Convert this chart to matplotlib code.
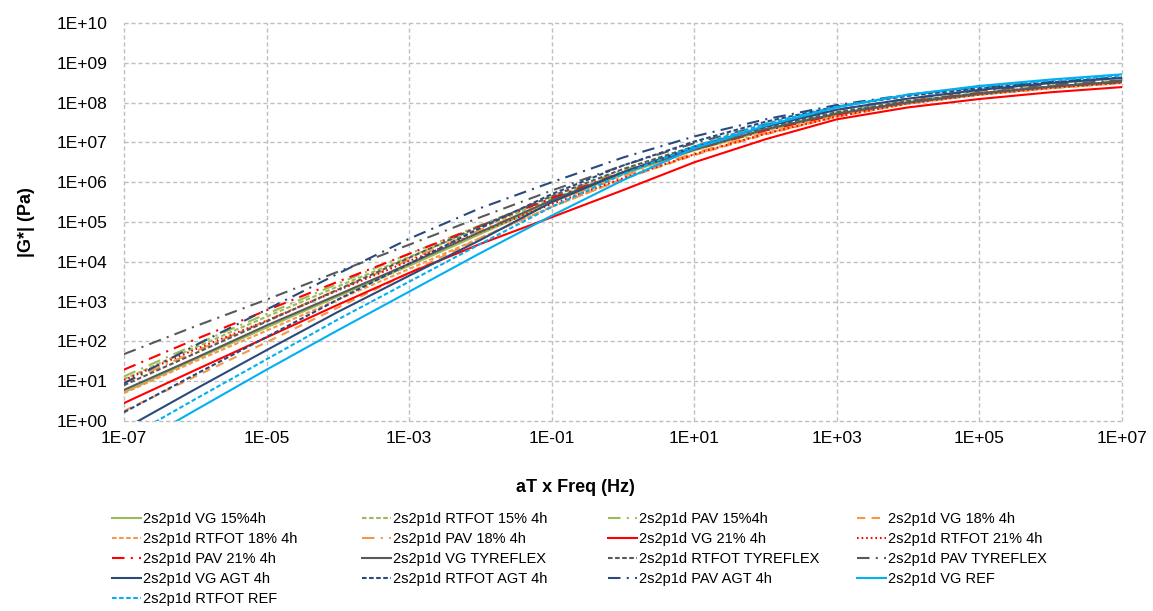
import numpy as np
import matplotlib
matplotlib.use("Agg")
import matplotlib.pyplot as plt
from matplotlib.ticker import FixedLocator, FixedFormatter, NullLocator

plt.rcParams["font.family"] = ["Liberation Sans", "DejaVu Sans"]

# reduced frequency, one point per decade
freq = [1e-7, 1e-6, 1e-5, 1e-4, 1e-3, 1e-2, 1e-1, 1e0,
        1e1, 1e2, 1e3, 1e4, 1e5, 1e6, 1e7]

# log10 |G*| (Pa) of each 2S2P1D fit at the frequencies above
vg_15 = [0.72, 1.55, 2.35, 3.13, 3.90, 4.70, 5.50, 6.20, 6.80, 7.30, 7.70, 8.00, 8.20, 8.37, 8.50]
rtfot_15 = [1.05, 1.85, 2.62, 3.38, 4.12, 4.85, 5.58, 6.25, 6.82, 7.32, 7.72, 8.02, 8.24, 8.40, 8.53]
pav_15 = [1.12, 1.92, 2.69, 3.45, 4.20, 4.92, 5.63, 6.30, 6.86, 7.35, 7.75, 8.05, 8.27, 8.43, 8.56]
vg_18 = [0.25, 1.12, 1.98, 2.85, 3.72, 4.60, 5.38, 6.08, 6.68, 7.20, 7.65, 7.98, 8.20, 8.36, 8.50]
rtfot_18 = [0.70, 1.50, 2.27, 3.05, 3.82, 4.60, 5.38, 6.08, 6.70, 7.22, 7.65, 7.97, 8.20, 8.36, 8.49]
pav_18 = [0.95, 1.75, 2.52, 3.30, 4.05, 4.80, 5.50, 6.15, 6.73, 7.25, 7.68, 8.00, 8.22, 8.38, 8.52]
vg_21 = [0.45, 1.28, 2.10, 2.92, 3.72, 4.45, 5.12, 5.80, 6.50, 7.08, 7.58, 7.88, 8.09, 8.26, 8.39]
rtfot_21 = [1.03, 1.80, 2.52, 3.28, 4.02, 4.75, 5.45, 6.10, 6.70, 7.22, 7.65, 7.98, 8.20, 8.37, 8.50]
pav_21 = [1.29, 2.05, 2.78, 3.50, 4.20, 4.90, 5.60, 6.25, 6.82, 7.30, 7.70, 8.02, 8.24, 8.40, 8.52]
vg_tyre = [0.78, 1.58, 2.40, 3.17, 3.95, 4.75, 5.55, 6.25, 6.82, 7.33, 7.72, 8.00, 8.22, 8.40, 8.53]
rtfot_tyre = [0.90, 1.70, 2.50, 3.30, 4.10, 4.90, 5.65, 6.33, 6.90, 7.38, 7.76, 8.04, 8.24, 8.40, 8.52]
pav_tyre = [1.68, 2.38, 3.05, 3.75, 4.43, 5.12, 5.79, 6.42, 6.98, 7.45, 7.82, 8.10, 8.30, 8.45, 8.56]
vg_agt = [-0.20, 0.80, 1.78, 2.74, 3.65, 4.55, 5.50, 6.25, 6.88, 7.40, 7.82, 8.10, 8.32, 8.49, 8.62]
rtfot_agt = [0.22, 1.17, 2.11, 3.05, 3.95, 4.85, 5.70, 6.42, 7.02, 7.52, 7.90, 8.17, 8.36, 8.51, 8.63]
pav_agt = [0.95, 1.90, 2.80, 3.70, 4.58, 5.35, 6.00, 6.62, 7.15, 7.58, 7.94, 8.20, 8.38, 8.52, 8.64]
vg_ref = [-0.76, 0.27, 1.29, 2.28, 3.25, 4.22, 5.16, 6.05, 6.85, 7.42, 7.88, 8.20, 8.42, 8.58, 8.71]
rtfot_ref = [-0.47, 0.55, 1.55, 2.55, 3.50, 4.45, 5.38, 6.20, 6.90, 7.47, 7.90, 8.20, 8.40, 8.56, 8.68]

labels = ["2s2p1d VG 15%4h", "2s2p1d RTFOT 15% 4h", "2s2p1d PAV 15%4h",
          "2s2p1d VG 18% 4h", "2s2p1d RTFOT 18% 4h", "2s2p1d PAV 18% 4h",
          "2s2p1d VG 21% 4h", "2s2p1d RTFOT 21% 4h", "2s2p1d PAV 21% 4h",
          "2s2p1d VG TYREFLEX", "2s2p1d RTFOT TYREFLEX", "2s2p1d PAV TYREFLEX",
          "2s2p1d VG AGT 4h", "2s2p1d RTFOT AGT 4h", "2s2p1d PAV AGT 4h",
          "2s2p1d VG REF", "2s2p1d RTFOT REF"]
series = [vg_15, rtfot_15, pav_15, vg_18, rtfot_18, pav_18, vg_21, rtfot_21, pav_21,
          vg_tyre, rtfot_tyre, pav_tyre, vg_agt, rtfot_agt, pav_agt, vg_ref, rtfot_ref]

green, orange, red = "#9BBB59", "#F79646", "#FF0000"
gray, navy, cyan = "#595959", "#2A4A7C", "#00B0F0"
solid = "-"
short = (0, (2.2, 1.2))
dots = (0, (0.8, 1.4))
dashed = (0, (4, 3))
dashdot = (0, (6, 3, 1, 3))
styles = [(green, solid), (green, short), (green, dashdot),
          (orange, dashed), (orange, short), (orange, dashdot),
          (red, solid), (red, dots), (red, dashdot),
          (gray, solid), (gray, short), (gray, dashdot),
          (navy, solid), (navy, short), (navy, dashdot),
          (cyan, solid), (cyan, short)]

fig = plt.figure(figsize=(11.53, 6.11), dpi=100)
ax = fig.add_axes([124 / 1153, 1 - 421 / 611, 998 / 1153, 398 / 611])

handles = []
for vals, (col, ls), lab in zip(series, styles, labels):
    h, = ax.plot(freq, 10 ** np.array(vals), color=col, linestyle=ls, lw=1.5,
                 label=lab, dash_capstyle="butt")
    handles.append(h)

ax.set_xscale("log")
ax.set_yscale("log")
ax.set_xlim(1e-7, 1e7)
ax.set_ylim(1, 1e10)

xt = [10.0 ** e for e in range(-7, 8, 2)]
ax.xaxis.set_major_locator(FixedLocator(xt))
ax.xaxis.set_major_formatter(FixedFormatter(["1E-07", "1E-05", "1E-03", "1E-01",
                                             "1E+01", "1E+03", "1E+05", "1E+07"]))
yt = [10.0 ** e for e in range(0, 11)]
ax.yaxis.set_major_locator(FixedLocator(yt))
ax.yaxis.set_major_formatter(FixedFormatter(["1E+%02d" % e for e in range(0, 11)]))
ax.xaxis.set_minor_locator(NullLocator())
ax.yaxis.set_minor_locator(NullLocator())
ax.tick_params(axis="both", length=0, labelsize=12.5, colors="#000000")
ax.tick_params(axis="y", pad=12)
ax.tick_params(axis="x", pad=7)

for s in ax.spines.values():
    s.set_visible(False)
ax.grid(True, color="#BFBFBF", linestyle=(0, (3, 2)), linewidth=1)
ax.set_axisbelow(True)
for gl in ax.get_xgridlines() + ax.get_ygridlines():
    gl.set_clip_on(False)

fig.text(27 / 1153, 1 - 222 / 611, "|G*| (Pa)", rotation=90, ha="center", va="center",
         fontsize=13, fontweight="bold")
fig.text(575 / 1153, 1 - 487 / 611, "aT x Freq (Hz)", ha="center", va="center",
         fontsize=13, fontweight="bold")

# legend laid out row by row in four columns
col_x = [112, 362, 608, 857]
for c in range(4):
    idx = list(range(c, len(handles), 4))
    fig.legend([handles[i] for i in idx], [labels[i] for i in idx],
               loc="upper left", bbox_to_anchor=(col_x[c] / 1153, 1 - 512 / 611),
               frameon=False, borderpad=0, borderaxespad=0, fontsize=10.5,
               handlelength=2.0, handletextpad=0.15, labelspacing=0.42)

fig.savefig("out.png", dpi=100)
